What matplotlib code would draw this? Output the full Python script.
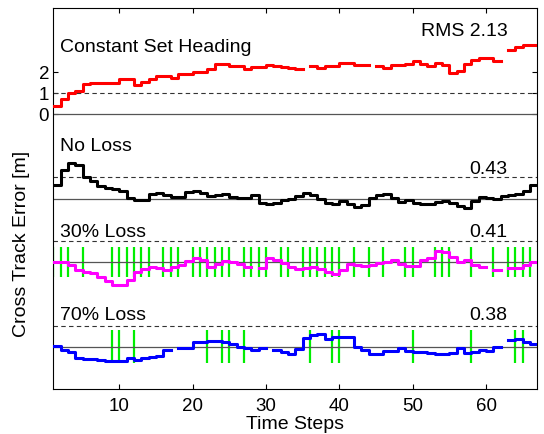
import numpy as np
import matplotlib.pyplot as plt

plt.rcParams['font.family'] = ['Liberation Sans', 'DejaVu Sans']

nan = np.nan
steps = np.arange(1, 68)

# cross track error per time step (t = 1..66), NaN = no data
const_heading = [0.39, 0.7, 1.0, 1.1, 1.42, 1.45, 1.46, 1.48, 1.45, 1.65, 1.65, 1.37, 1.5, 1.65,
                 1.81, 1.81, 1.7, 1.89, 1.9, 1.96, 2.0, 2.12, 2.36, 2.36, 2.24, 2.24, 2.12, 2.2,
                 2.2, 2.3, 2.24, 2.2, 2.15, 2.12, nan, 2.27, 2.17, 2.27, 2.27, 2.42, 2.42, 2.3,
                 2.3, nan, 2.27, 2.15, 2.3, 2.3, 2.35, 2.5, 2.35, 2.27, 2.42, 2.29, 1.95, 2.03,
                 2.35, 2.55, 2.62, 2.66, 2.5, nan, 3.0, 3.15, 3.27, 3.27]
no_loss = [0.65, 1.35, 1.66, 1.6, 1.04, 0.81, 0.6, 0.52, 0.46, 0.34, 0.03, -0.09, -0.05, 0.21,
           0.26, 0.15, 0.07, 0.07, 0.3, 0.37, 0.26, 0.1, 0.15, 0.21, 0.06, 0.03, 0.03, 0.15,
           -0.2, -0.25, -0.2, -0.09, -0.02, 0.1, 0.26, 0.15, 0.0, -0.2, -0.27, -0.12, -0.25,
           -0.4, -0.31, 0.03, 0.15, 0.21, 0.03, -0.15, -0.05, -0.2, -0.25, -0.25, -0.17, -0.12,
           -0.2, -0.36, -0.46, -0.12, 0.07, 0.03, 0.0, 0.1, 0.15, 0.21, 0.34, 0.65]
loss30 = [0.0, 0.0, -0.15, -0.39, -0.47, -0.52, -0.7, -0.9, -1.1, -1.1, -0.86, -0.47, -0.31,
          -0.23, -0.28, -0.39, -0.23, -0.15, 0.03, 0.19, 0.08, -0.23, -0.08, 0.03, 0.0, -0.08,
          -0.23, nan, -0.3, 0.19, 0.08, -0.05, -0.23, -0.31, -0.28, -0.23, -0.31, -0.47, -0.55,
          -0.39, -0.08, -0.15, -0.19, -0.12, -0.03, 0.0, 0.08, -0.08, -0.19, -0.19, 0.11, 0.19,
          0.5, 0.47, 0.24, 0.0, 0.08, -0.15, -0.23, nan, -0.39, nan, -0.3, -0.28, -0.15, 0.0]
loss70 = [0.05, -0.16, -0.24, -0.55, -0.58, -0.58, -0.63, -0.66, -0.68, -0.66, -0.55, -0.63,
          -0.55, -0.47, -0.44, -0.16, nan, -0.08, -0.06, 0.2, 0.23, 0.27, 0.28, 0.2, 0.11, 0.0,
          -0.05, -0.16, -0.08, nan, -0.16, -0.24, -0.36, -0.11, 0.39, 0.55, 0.58, 0.36, 0.47,
          0.47, 0.47, 0.0, -0.16, -0.36, -0.36, -0.2, -0.2, -0.05, -0.19, -0.24, -0.24, -0.28,
          -0.35, -0.35, -0.28, -0.08, -0.31, -0.24, -0.16, -0.2, 0.0, nan, 0.31, 0.36, 0.23, 0.11]

# time steps with a received measurement
recv30 = [1, 2, 3, 5, 9, 10, 11, 12, 13, 14, 16, 17, 18, 20, 21, 22, 23, 24, 25, 27, 28, 29, 30,
          32, 33, 35, 36, 37, 38, 39, 40, 42, 44, 46, 49, 50, 53, 54, 55, 58, 61, 63, 64, 65, 66]
recv70 = [9, 10, 12, 22, 24, 25, 27, 36, 39, 40, 50, 58, 64, 65]

names = ['Constant Set Heading', 'No Loss', '30% Loss', '70% Loss']
rms = ['RMS 2.13', '0.43', '0.41', '0.38']
offsets = [0, -4, -7, -11]
colors = ['#ff0000', 'black', '#ff00ff', '#0000ff']
label_y = [3.2, -1.5, -5.58, -9.5]
rms_y = [3.93, -2.6, -5.58, -9.5]

fig = plt.figure(figsize=(5.44, 4.35), dpi=100)
ax = fig.add_axes([0.098, 0.1034, 0.89, 0.8758])

# green marks for received measurements
ax.vlines(recv30, offsets[2] - 0.72, offsets[2] + 0.72, color='#00ee00', lw=1.6, zorder=1)
ax.vlines(recv70, offsets[3] - 0.78, offsets[3] + 0.78, color='#00ee00', lw=1.6, zorder=1)

series = [const_heading, no_loss, loss30, loss70]
for i, vals in enumerate(series):
    off = offsets[i]
    ax.axhline(off, color='#555555', lw=0.9, zorder=2)
    ax.axhline(off + 1, color='#333333', lw=0.8, ls=(0, (4, 3)), zorder=2)
    y = np.array(vals + [vals[-1]]) + off
    ax.step(steps, y, where='post', color=colors[i], lw=2.2, zorder=3)
    ax.text(1.9, label_y[i], names[i], fontsize=14, va='center', ha='left')
    ax.text(62.9, rms_y[i], rms[i], fontsize=14, va='center', ha='right')

ax.set_xlim(1, 67)
ax.set_ylim(-13, 5)
ax.set_xticks([10, 20, 30, 40, 50, 60])
ax.set_yticks([0, 1, 2])
ax.tick_params(direction='in', length=3.5, width=0.8, labelsize=13.5,
               top=True, right=True)
ax.tick_params(axis='x', pad=6)
ax.tick_params(axis='y', pad=3)
for s in ax.spines.values():
    s.set_linewidth(0.8)

fig.text(0.542, 1 - 425 / 435, 'Time Steps', fontsize=14, ha='center', va='center')
fig.text(22 / 544, 1 - 244 / 435, 'Cross Track Error [m]', fontsize=14,
         rotation=90, ha='center', va='center')

fig.savefig('out.png', dpi=100)
